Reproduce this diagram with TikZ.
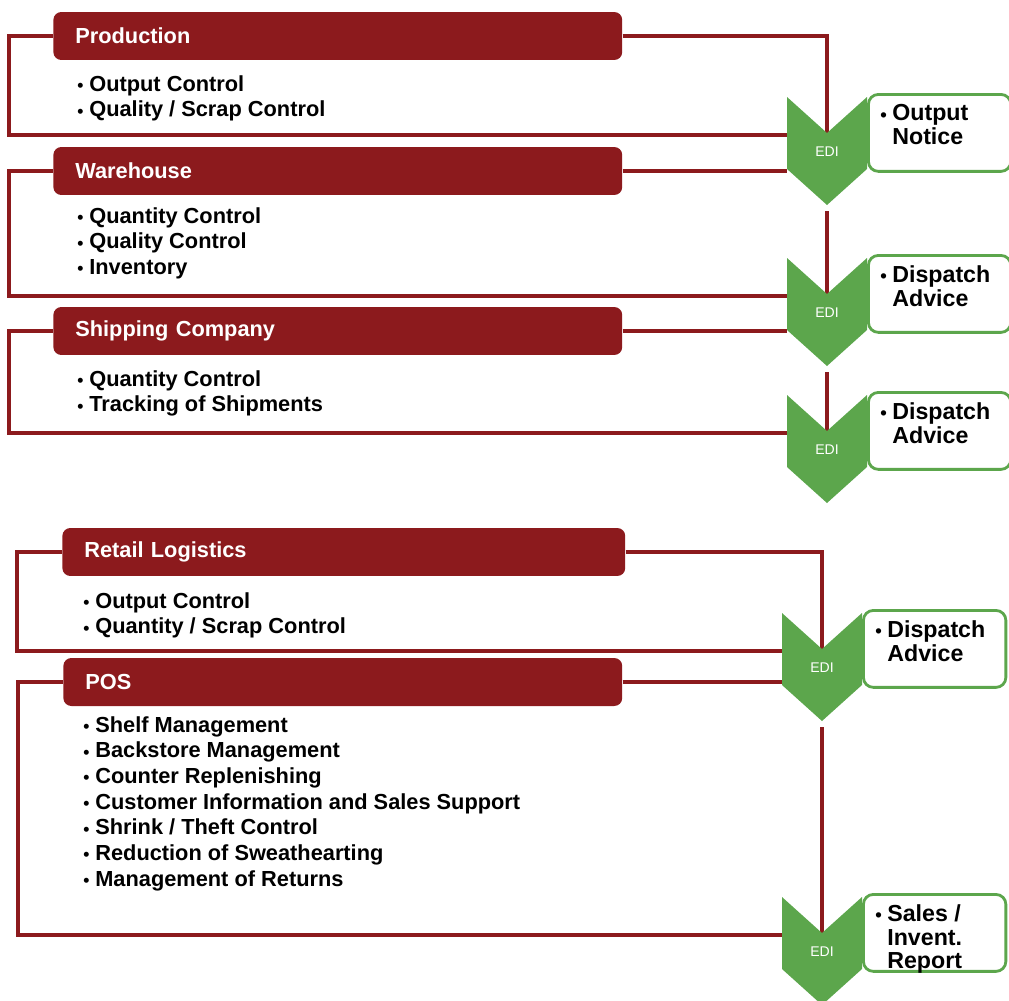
\documentclass[tikz,border=0pt]{standalone}
\usepackage{fontspec}
\setmainfont{Liberation Sans}
\usetikzlibrary{backgrounds}

\definecolor{edired}{RGB}{140,26,29}
\definecolor{edigreen}{RGB}{92,166,76}

\newcommand{\bul}{\makebox[0.24cm][l]{\raisebox{-0.02em}{\scalebox{0.8}{\textbullet}}}}
\newcommand{\ind}{\hspace*{0.24cm}}

% one EDI step: name, centre x, top y, note text
\newcommand{\edistep}[4]{%
  \node[notebox] (#1-box) at ({#2+40},{#3-4}) {};
  \fill[edigreen] ({#2-40},#3) -- (#2,{#3+36}) -- ({#2+40},#3) -- ({#2+40},{#3+72})
    -- (#2,{#3+108}) -- ({#2-40},{#3+72}) -- cycle;
  \node[editag] (#1) at (#2,{#3+55}) {EDI};
  \coordinate (#1-notch) at (#2,{#3+36});
  \coordinate (#1-out) at (#2,{#3+114});
  \coordinate (#1-west) at ({#2-40},{#3+38});
  \node[notetext] (#1-note) at ({#2+53},{#3+7}) {#4};
}

\begin{document}
\begin{tikzpicture}[x=0.02cm, y=-0.02cm,
    hdr/.style={fill=edired, rounded corners=0.16cm, text=white, anchor=west,
      font=\fontsize{12.4pt}{15pt}\selectfont\bfseries, align=left,
      inner xsep=0.44cm, inner ysep=0pt, minimum height=0.96cm},
    items/.style={anchor=north west, inner sep=0pt, align=left,
      font=\fontsize{12.4pt}{14.6pt}\selectfont\bfseries},
    link/.style={draw=edired, line width=2.1pt},
    notebox/.style={draw=edigreen, line width=1.6pt, fill=white, rounded corners=0.2cm,
      anchor=north west, minimum width=2.85cm, minimum height=1.54cm, inner sep=0pt},
    notetext/.style={anchor=north west, inner sep=0pt, align=left,
      font=\fontsize{13.2pt}{13.6pt}\selectfont\bfseries},
    editag/.style={text=white, inner sep=0pt, font=\fontsize{8pt}{9pt}\selectfont}]
    \useasboundingbox (0,0) rectangle (1009,1001);

    % upper chain
    \node[hdr, text width=10.5cm] (prod) at (53,36) {Production};
    \node[items] (prod-items) at (77,75) {\bul Output Control\\\bul Quality / Scrap Control};
    \node[hdr, text width=10.5cm] (ware) at (53,171) {Warehouse};
    \node[items] (ware-items) at (77,207) {\bul Quantity Control\\\bul Quality Control\\\bul Inventory};
    \node[hdr, text width=10.5cm] (ship) at (53,331) {Shipping Company};
    \node[items] (ship-items) at (77,370) {\bul Quantity Control\\\bul Tracking of Shipments};

    \edistep{e1}{827}{97}{\bul Output\\\ind Notice}
    \edistep{e2}{827}{258}{\bul Dispatch\\\ind Advice}
    \edistep{e3}{827}{395}{\bul Dispatch\\\ind Advice}

    % lower chain
    \node[hdr, text width=10.38cm] (retail) at (62,552) {Retail Logistics};
    \node[items] (retail-items) at (83,592) {\bul Output Control\\\bul Quantity / Scrap Control};
    \node[hdr, text width=10.3cm] (pos) at (63,682) {POS};
    \node[items] (pos-items) at (83,716) {\bul Shelf Management\\\bul Backstore Management\\
      \bul Counter Replenishing\\\bul Customer Information and Sales Support\\
      \bul Shrink / Theft Control\\\bul Reduction of Sweathearting\\\bul Management of Returns};

    \edistep{e4}{822}{613}{\bul Dispatch\\\ind Advice}
    \edistep{e5}{822}{897}{\bul Sales /\\\ind Invent.\\\ind Report}

    \begin{pgfonlayer}{background}
    \draw[link] (prod.east) -| (e1-notch);
    \draw[link] (prod.west) -- ++(-44,0) |- (e1-west);
    \draw[link] (ware.east) -- (ware.east -| e1-west);
    \draw[link] (ware.west) -- ++(-44,0) |- (e2-west);
    \draw[link] (e1-out) -- (e2-notch);
    \draw[link] (ship.east) -- (ship.east -| e2-west);
    \draw[link] (ship.west) -- ++(-44,0) |- (e3-west);
    \draw[link] (e2-out) -- (e3-notch);

    \draw[link] (retail.east) -| (e4-notch);
    \draw[link] (retail.west) -- ++(-45,0) |- (e4-west);
    \draw[link] (pos.east) -- (pos.east -| e4-west);
    \draw[link] (pos.west) -- ++(-45,0) |- (e5-west);
    \draw[link] (e4-out) -- (e5-notch);
    \end{pgfonlayer}
\end{tikzpicture}
\end{document}
